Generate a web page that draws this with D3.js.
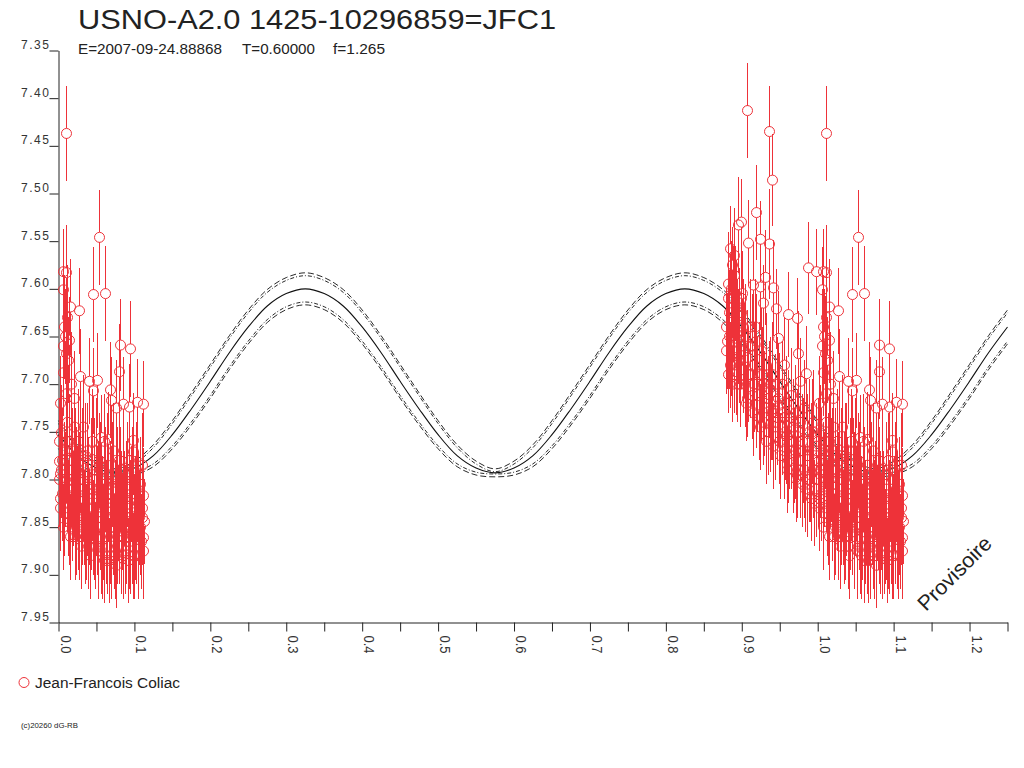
<!DOCTYPE html>
<html>
<head>
<meta charset="utf-8">
<script src="https://cdn.jsdelivr.net/npm/d3@7"></script>
<style>
  html, body { margin: 0; padding: 0; background: #fff; }
  svg { display: block; font-family: "Liberation Sans", Arial, sans-serif; }
</style>
</head>
<body>
<svg id="chart" width="1024" height="768"></svg>
<script>
// === Texts ===
const titleText = 'USNO-A2.0 1425-10296859=JFC1';
const infoTexts = ['E=2007-09-24.88868', 'T=0.60000', 'f=1.265'];
const observer = 'Jean-Francois Coliac';
const copyright = '(c)20260 dG-RB';
const stamp = 'Provisoire';

// === Axes ===
const yTicks = [7.35, 7.40, 7.45, 7.50, 7.55, 7.60, 7.65, 7.70, 7.75, 7.80, 7.85, 7.90, 7.95];
const xTicks = [0, 0.05, 0.1, 0.15, 0.2, 0.25, 0.3, 0.35, 0.4, 0.45, 0.5, 0.55, 0.6,
                0.65, 0.7, 0.75, 0.8, 0.85, 0.9, 0.95, 1.0, 1.05, 1.1, 1.15, 1.2, 1.25];
const xLabels = [0, 0.1, 0.2, 0.3, 0.4, 0.5, 0.6, 0.7, 0.8, 0.9, 1.0, 1.1, 1.2];

// === Fitted light curve: one cycle (period 0.5 in phase), step 0.025 ===
const modelStep = 0.025;
const cycleMag = [7.753, 7.775, 7.788, 7.793, 7.788, 7.775, 7.753, 7.726, 7.697, 7.667,
                  7.640, 7.618, 7.605, 7.600, 7.605, 7.618, 7.640, 7.667, 7.697, 7.726];
// half widths of the two envelope pairs (mag)
const bandOuter = [0.0147, 0.0115, 0.0073, 0.0042, 0.0073, 0.0115, 0.0147, 0.0168, 0.0178, 0.0178,
                   0.0178, 0.0173, 0.0168, 0.0168, 0.0168, 0.0173, 0.0178, 0.0178, 0.0178, 0.0168];
const bandInner = [0.0117, 0.0085, 0.0043, 0.0012, 0.0043, 0.0085, 0.0117, 0.0138, 0.0148, 0.0148,
                   0.0148, 0.0143, 0.0138, 0.0138, 0.0138, 0.0143, 0.0148, 0.0148, 0.0148, 0.0138];

// === Observations [phase, mag, error] ===
// identified points before phase 1.0
const obsLateBright = [
  [0.907, 7.413, 0.050], [0.936, 7.435, 0.048], [0.941, 7.486, 0.048], [0.920, 7.520, 0.050],
  [0.899, 7.530, 0.045], [0.896, 7.533, 0.050], [0.924, 7.548, 0.040], [0.909, 7.552, 0.045],
  [0.936, 7.553, 0.058], [0.885, 7.558, 0.045], [0.890, 7.565, 0.050], [0.888, 7.575, 0.040],
  [0.988, 7.578, 0.048], [0.999, 7.582, 0.045], [0.931, 7.588, 0.050], [0.890, 7.586, 0.045],
  [0.942, 7.599, 0.050], [0.916, 7.596, 0.045], [0.924, 7.598, 0.045], [0.901, 7.605, 0.045],
  [0.929, 7.615, 0.040], [0.946, 7.621, 0.042], [0.962, 7.627, 0.045], [0.973, 7.631, 0.042],
  [0.888, 7.657, 0.045], [0.948, 7.652, 0.050], [0.975, 7.668, 0.045], [0.956, 7.680, 0.050],
  [0.893, 7.687, 0.045], [0.985, 7.689, 0.050], [0.978, 7.697, 0.045]
];
// bulk before phase 1.0
const obsLate = [
  [0.880, 7.640, 0.040], [0.880, 7.665, 0.045], [0.882, 7.610, 0.050], [0.882, 7.690, 0.040],
  [0.884, 7.625, 0.045], [0.884, 7.650, 0.055], [0.886, 7.600, 0.050], [0.886, 7.672, 0.040],
  [0.889, 7.632, 0.045], [0.889, 7.610, 0.055], [0.891, 7.655, 0.045], [0.891, 7.690, 0.040],
  [0.893, 7.620, 0.050], [0.893, 7.662, 0.045], [0.895, 7.645, 0.055], [0.895, 7.700, 0.040],
  [0.897, 7.628, 0.050], [0.897, 7.675, 0.045], [0.899, 7.660, 0.045], [0.899, 7.610, 0.050],
  [0.902, 7.685, 0.045], [0.902, 7.640, 0.050], [0.905, 7.650, 0.055], [0.905, 7.700, 0.045],
  [0.908, 7.672, 0.050], [0.908, 7.715, 0.040], [0.911, 7.640, 0.050], [0.911, 7.690, 0.045],
  [0.914, 7.660, 0.055], [0.914, 7.712, 0.045], [0.917, 7.700, 0.050], [0.917, 7.680, 0.045],
  [0.920, 7.655, 0.050], [0.920, 7.722, 0.045], [0.923, 7.690, 0.055], [0.923, 7.735, 0.045],
  [0.926, 7.710, 0.050], [0.926, 7.665, 0.045], [0.929, 7.700, 0.050], [0.929, 7.740, 0.045],
  [0.932, 7.680, 0.055], [0.932, 7.725, 0.050], [0.935, 7.715, 0.045], [0.935, 7.750, 0.045],
  [0.938, 7.700, 0.050], [0.938, 7.742, 0.050], [0.941, 7.730, 0.050], [0.941, 7.690, 0.055],
  [0.944, 7.755, 0.045], [0.944, 7.718, 0.050], [0.947, 7.735, 0.050], [0.947, 7.700, 0.050],
  [0.950, 7.760, 0.045], [0.950, 7.722, 0.055], [0.953, 7.745, 0.050], [0.953, 7.700, 0.045],
  [0.956, 7.770, 0.050], [0.956, 7.735, 0.045], [0.959, 7.720, 0.050], [0.959, 7.755, 0.050],
  [0.962, 7.780, 0.045], [0.962, 7.740, 0.055], [0.965, 7.760, 0.050], [0.965, 7.712, 0.050],
  [0.968, 7.790, 0.045], [0.968, 7.745, 0.050], [0.971, 7.730, 0.050], [0.971, 7.770, 0.050],
  [0.974, 7.795, 0.045], [0.974, 7.755, 0.050], [0.977, 7.740, 0.055], [0.977, 7.780, 0.045],
  [0.980, 7.805, 0.045], [0.980, 7.760, 0.050], [0.983, 7.725, 0.050], [0.983, 7.790, 0.050],
  [0.986, 7.775, 0.050], [0.986, 7.815, 0.045], [0.989, 7.750, 0.055], [0.989, 7.800, 0.045],
  [0.992, 7.820, 0.045], [0.992, 7.770, 0.050], [0.995, 7.790, 0.050], [0.995, 7.740, 0.055],
  [0.998, 7.810, 0.050], [0.998, 7.765, 0.045],
  [0.881, 7.655, 0.050], [0.883, 7.595, 0.055], [0.885, 7.680, 0.045], [0.887, 7.620, 0.050],
  [0.888, 7.700, 0.040], [0.890, 7.640, 0.055], [0.892, 7.605, 0.050], [0.894, 7.678, 0.045],
  [0.896, 7.650, 0.050], [0.898, 7.700, 0.045], [0.900, 7.625, 0.055], [0.903, 7.665, 0.050],
  [0.906, 7.720, 0.040], [0.909, 7.690, 0.050], [0.912, 7.660, 0.055], [0.915, 7.730, 0.045],
  [0.918, 7.640, 0.050], [0.921, 7.700, 0.050], [0.924, 7.745, 0.045], [0.927, 7.690, 0.050],
  [0.930, 7.720, 0.055], [0.933, 7.760, 0.045], [0.936, 7.705, 0.050], [0.939, 7.730, 0.050],
  [0.942, 7.765, 0.045], [0.945, 7.740, 0.055], [0.948, 7.715, 0.050], [0.951, 7.775, 0.045],
  [0.954, 7.730, 0.050], [0.957, 7.750, 0.050], [0.960, 7.790, 0.045], [0.963, 7.760, 0.050],
  [0.966, 7.735, 0.055], [0.969, 7.775, 0.050], [0.972, 7.800, 0.045], [0.975, 7.750, 0.050],
  [0.978, 7.790, 0.050], [0.981, 7.770, 0.055], [0.984, 7.810, 0.045], [0.987, 7.760, 0.050],
  [0.990, 7.795, 0.050], [0.993, 7.750, 0.055], [0.996, 7.825, 0.045], [0.999, 7.780, 0.050]
];
// bulk after phase 0.0 (shown again at +1)
const obsEarly = [
  [0.001, 7.800, 0.050], [0.001, 7.760, 0.045], [0.003, 7.830, 0.045], [0.003, 7.720, 0.050],
  [0.005, 7.780, 0.055], [0.005, 7.815, 0.050], [0.008, 7.640, 0.055], [0.008, 7.835, 0.045],
  [0.008, 7.790, 0.050], [0.010, 7.760, 0.050], [0.010, 7.668, 0.060], [0.012, 7.810, 0.045],
  [0.012, 7.740, 0.055], [0.012, 7.630, 0.055], [0.014, 7.780, 0.050], [0.014, 7.845, 0.045],
  [0.017, 7.700, 0.055], [0.017, 7.800, 0.050], [0.019, 7.835, 0.050], [0.019, 7.770, 0.045],
  [0.021, 7.815, 0.045], [0.021, 7.745, 0.050], [0.024, 7.850, 0.050], [0.024, 7.790, 0.045],
  [0.026, 7.760, 0.055], [0.026, 7.830, 0.045], [0.028, 7.800, 0.050], [0.028, 7.860, 0.045],
  [0.031, 7.775, 0.050], [0.031, 7.840, 0.050], [0.033, 7.820, 0.045], [0.033, 7.745, 0.055],
  [0.035, 7.860, 0.050], [0.035, 7.795, 0.045], [0.038, 7.770, 0.050], [0.038, 7.830, 0.050],
  [0.040, 7.815, 0.050], [0.040, 7.870, 0.045], [0.043, 7.785, 0.050], [0.043, 7.845, 0.050],
  [0.045, 7.760, 0.055], [0.045, 7.820, 0.045], [0.048, 7.855, 0.050], [0.048, 7.800, 0.050],
  [0.050, 7.835, 0.045], [0.050, 7.770, 0.055], [0.053, 7.875, 0.050], [0.053, 7.810, 0.050],
  [0.055, 7.790, 0.050], [0.055, 7.850, 0.045], [0.058, 7.830, 0.055], [0.058, 7.880, 0.045],
  [0.060, 7.805, 0.050], [0.060, 7.760, 0.050], [0.063, 7.860, 0.050], [0.063, 7.825, 0.045],
  [0.065, 7.785, 0.055], [0.065, 7.870, 0.050], [0.068, 7.840, 0.050], [0.068, 7.805, 0.045],
  [0.070, 7.880, 0.045], [0.070, 7.820, 0.055], [0.073, 7.770, 0.050], [0.073, 7.850, 0.050],
  [0.075, 7.830, 0.050], [0.075, 7.880, 0.045], [0.078, 7.800, 0.055], [0.078, 7.860, 0.050],
  [0.080, 7.845, 0.050], [0.080, 7.780, 0.050], [0.083, 7.870, 0.050], [0.083, 7.815, 0.045],
  [0.085, 7.790, 0.055], [0.085, 7.855, 0.050], [0.088, 7.835, 0.050], [0.088, 7.875, 0.045],
  [0.090, 7.810, 0.050], [0.090, 7.850, 0.055], [0.093, 7.865, 0.050], [0.093, 7.780, 0.050],
  [0.095, 7.830, 0.050], [0.095, 7.870, 0.050], [0.098, 7.800, 0.055], [0.098, 7.855, 0.045],
  [0.100, 7.845, 0.050], [0.100, 7.880, 0.045], [0.103, 7.790, 0.050], [0.103, 7.860, 0.050],
  [0.105, 7.825, 0.055], [0.105, 7.870, 0.045], [0.108, 7.805, 0.050], [0.108, 7.850, 0.050],
  [0.110, 7.840, 0.050], [0.110, 7.785, 0.055],
  [0.002, 7.820, 0.050], [0.004, 7.790, 0.050], [0.006, 7.660, 0.060], [0.007, 7.850, 0.045],
  [0.009, 7.800, 0.050], [0.011, 7.770, 0.055], [0.013, 7.830, 0.050], [0.015, 7.760, 0.050],
  [0.016, 7.860, 0.045], [0.018, 7.790, 0.055], [0.020, 7.820, 0.050], [0.022, 7.860, 0.045],
  [0.023, 7.775, 0.050], [0.025, 7.815, 0.050], [0.027, 7.845, 0.050], [0.029, 7.780, 0.055],
  [0.030, 7.870, 0.045], [0.032, 7.800, 0.050], [0.034, 7.840, 0.050], [0.036, 7.775, 0.055],
  [0.037, 7.855, 0.050], [0.039, 7.805, 0.050], [0.041, 7.840, 0.050], [0.042, 7.880, 0.045],
  [0.044, 7.810, 0.050], [0.046, 7.850, 0.050], [0.047, 7.790, 0.055], [0.049, 7.870, 0.045],
  [0.051, 7.815, 0.050], [0.052, 7.850, 0.050], [0.054, 7.780, 0.050], [0.056, 7.870, 0.050],
  [0.057, 7.825, 0.050], [0.059, 7.855, 0.050], [0.061, 7.885, 0.045], [0.062, 7.800, 0.055],
  [0.064, 7.840, 0.050], [0.066, 7.815, 0.050], [0.067, 7.885, 0.045], [0.069, 7.860, 0.050],
  [0.071, 7.795, 0.055], [0.072, 7.840, 0.050], [0.074, 7.865, 0.050], [0.076, 7.810, 0.050],
  [0.077, 7.890, 0.045], [0.079, 7.835, 0.050], [0.081, 7.860, 0.050], [0.082, 7.800, 0.055],
  [0.084, 7.845, 0.050], [0.086, 7.880, 0.045], [0.087, 7.820, 0.050], [0.089, 7.860, 0.050],
  [0.091, 7.795, 0.055], [0.092, 7.885, 0.045], [0.094, 7.840, 0.050], [0.096, 7.815, 0.050],
  [0.097, 7.860, 0.050], [0.099, 7.880, 0.045], [0.101, 7.825, 0.050], [0.102, 7.855, 0.050],
  [0.104, 7.810, 0.055], [0.106, 7.880, 0.045], [0.107, 7.840, 0.050], [0.109, 7.865, 0.050],
  [0.111, 7.830, 0.050]
];
// identified points after phase 0.0
const obsEarlyBright = [
  [0.007, 7.582, 0.045], [0.011, 7.583, 0.050], [0.011, 7.437, 0.050], [0.006, 7.601, 0.045],
  [0.016, 7.619, 0.050], [0.028, 7.623, 0.045], [0.054, 7.546, 0.050], [0.046, 7.606, 0.050],
  [0.062, 7.605, 0.050], [0.009, 7.650, 0.050], [0.015, 7.654, 0.045], [0.082, 7.659, 0.048],
  [0.095, 7.663, 0.050], [0.013, 7.675, 0.045], [0.007, 7.688, 0.045], [0.081, 7.687, 0.050],
  [0.029, 7.692, 0.050], [0.051, 7.696, 0.050], [0.041, 7.697, 0.045], [0.068, 7.706, 0.050],
  [0.046, 7.707, 0.045], [0.011, 7.710, 0.045], [0.021, 7.715, 0.050], [0.070, 7.717, 0.045],
  [0.086, 7.721, 0.050], [0.094, 7.724, 0.045], [0.077, 7.725, 0.050], [0.104, 7.719, 0.045],
  [0.112, 7.721, 0.045], [0.004, 7.751, 0.050], [0.001, 7.781, 0.050], [0.002, 7.794, 0.055],
  [0.015, 7.825, 0.045], [0.112, 7.817, 0.050], [0.113, 7.844, 0.045], [0.112, 7.861, 0.050],
  [0.112, 7.875, 0.050], [0.057, 7.756, 0.045], [0.066, 7.758, 0.050], [0.099, 7.759, 0.050],
  [0.099, 7.771, 0.045]
];

// === Build chart ===
(function () {
  const red = '#ee3239';
  const ink = '#222';
  const svg = d3.select('#chart');

  const x = d3.scaleLinear().domain([0, 1.25]).range([58.5, 1007.5]);
  const y = d3.scaleLinear().domain([7.35, 7.95]).range([50.5, 622.5]);
  const snap = v => Math.round(v - 0.5) + 0.5;

  // Title + info line
  svg.append('text')
    .attr('x', 78).attr('y', 28.5)
    .attr('font-size', 28).attr('fill', ink)
    .attr('textLength', 478).attr('lengthAdjust', 'spacingAndGlyphs')
    .text(titleText);

  const infoX = [78, 242, 333];
  const infoW = [144, 73, 52];
  infoTexts.forEach((t, i) => {
    svg.append('text')
      .attr('x', infoX[i]).attr('y', 54)
      .attr('font-size', 14).attr('fill', ink)
      .attr('textLength', infoW[i]).attr('lengthAdjust', 'spacingAndGlyphs')
      .text(t);
  });

  // Y axis
  const yAxis = svg.append('g')
    .attr('transform', 'translate(58.5,0)')
    .call(d3.axisLeft(y).tickValues(yTicks).tickSize(9).tickSizeOuter(0)
      .tickFormat(d3.format('.2f')));
  yAxis.select('.domain').attr('stroke', ink);
  yAxis.selectAll('.tick line').attr('stroke', ink);
  yAxis.selectAll('.tick text')
    .attr('x', -9.5).attr('dy', -2)
    .attr('font-size', 12).attr('fill', '#333')
    .attr('font-family', '"Liberation Sans", Arial, sans-serif')
    .attr('textLength', 28).attr('lengthAdjust', 'spacing');

  // X axis
  const xAxis = svg.append('g')
    .attr('transform', 'translate(0,622.5)')
    .call(d3.axisBottom(x).tickValues(xTicks).tickSize(9).tickSizeOuter(0)
      .tickFormat(d => xLabels.some(v => Math.abs(v - d) < 1e-9) ? d3.format('.1f')(d) : ''));
  xAxis.select('.domain').attr('stroke', ink);
  xAxis.selectAll('.tick line').attr('stroke', ink);
  xAxis.selectAll('.tick text')
    .attr('y', 0).attr('dy', 0)
    .attr('transform', 'translate(1.5,13) rotate(90)')
    .attr('text-anchor', 'start')
    .attr('font-size', 14).attr('fill', '#333')
    .attr('font-family', '"Liberation Sans", Arial, sans-serif')
    .attr('textLength', 18).attr('lengthAdjust', 'spacingAndGlyphs');

  // Model curves
  const nModel = Math.round(1.25 / modelStep) + 1;
  const grid = d3.range(nModel).map(i => ({ p: i * modelStep, k: i % cycleMag.length }));
  const curves = [
    { off: k => -bandOuter[k], dash: '6,3' },
    { off: k => -bandInner[k], dash: '4,2,1,2' },
    { off: k => 0, dash: null },
    { off: k => bandInner[k], dash: '4,2,1,2' },
    { off: k => bandOuter[k], dash: '6,3' }
  ];
  const cg = svg.append('g').attr('fill', 'none').attr('stroke', '#111');
  curves.forEach(c => {
    const line = d3.line()
      .x(d => x(d.p))
      .y(d => y(cycleMag[d.k] + c.off(d.k)))
      .curve(d3.curveCatmullRom.alpha(0.5));
    cg.append('path')
      .attr('d', line(grid))
      .attr('stroke-width', c.dash ? 0.9 : 1.1)
      .attr('stroke-dasharray', c.dash);
  });

  // Observations: phase p shown at p and p + 1 when inside the axis
  function place(sets) {
    const out = [];
    sets.forEach(set => set.forEach(([p, m, e]) => {
      [p, p + 1].forEach(pp => {
        if (pp >= 0 && pp <= 1.25) out.push({ p: pp, m, e });
      });
    }));
    return out;
  }
  const bulk = place([obsLate, obsEarly]);
  const bright = place([obsLateBright, obsEarlyBright]);
  const r = 5;

  // bulk: circles first, bars over them
  const bg = svg.append('g').attr('stroke', red).attr('fill', 'none');
  bg.selectAll('circle').data(bulk).join('circle')
    .attr('cx', d => snap(x(d.p))).attr('cy', d => y(d.m)).attr('r', r);
  bg.selectAll('line').data(bulk).join('line')
    .attr('shape-rendering', 'crispEdges')
    .attr('x1', d => snap(x(d.p))).attr('x2', d => snap(x(d.p)))
    .attr('y1', d => y(d.m - d.e)).attr('y2', d => y(d.m + d.e));

  // identified points: bar broken by the circle
  const pg = svg.append('g').attr('stroke', red).attr('fill', 'none');
  const pt = pg.selectAll('g').data(bright).join('g');
  pt.append('line').attr('shape-rendering', 'crispEdges')
    .attr('x1', d => snap(x(d.p))).attr('x2', d => snap(x(d.p)))
    .attr('y1', d => y(d.m - d.e)).attr('y2', d => y(d.m) - r);
  pt.append('line').attr('shape-rendering', 'crispEdges')
    .attr('x1', d => snap(x(d.p))).attr('x2', d => snap(x(d.p)))
    .attr('y1', d => y(d.m) + r).attr('y2', d => y(d.m + d.e));
  pt.append('circle')
    .attr('cx', d => snap(x(d.p))).attr('cy', d => y(d.m)).attr('r', r);

  // Provisoire stamp
  svg.append('text')
    .attr('transform', 'translate(926,612) rotate(-45)')
    .attr('font-size', 21).attr('fill', ink)
    .attr('textLength', 95).attr('lengthAdjust', 'spacingAndGlyphs')
    .text(stamp);

  // Legend
  svg.append('circle')
    .attr('cx', 24).attr('cy', 682.5).attr('r', 5)
    .attr('fill', 'none').attr('stroke', red);
  svg.append('text')
    .attr('x', 35).attr('y', 687.5)
    .attr('font-size', 14).attr('fill', ink)
    .attr('textLength', 145).attr('lengthAdjust', 'spacingAndGlyphs')
    .text(observer);

  // Copyright
  svg.append('text')
    .attr('x', 21).attr('y', 728)
    .attr('font-size', 7).attr('fill', ink)
    .attr('textLength', 57).attr('lengthAdjust', 'spacingAndGlyphs')
    .text(copyright);
})();
</script>
</body>
</html>
